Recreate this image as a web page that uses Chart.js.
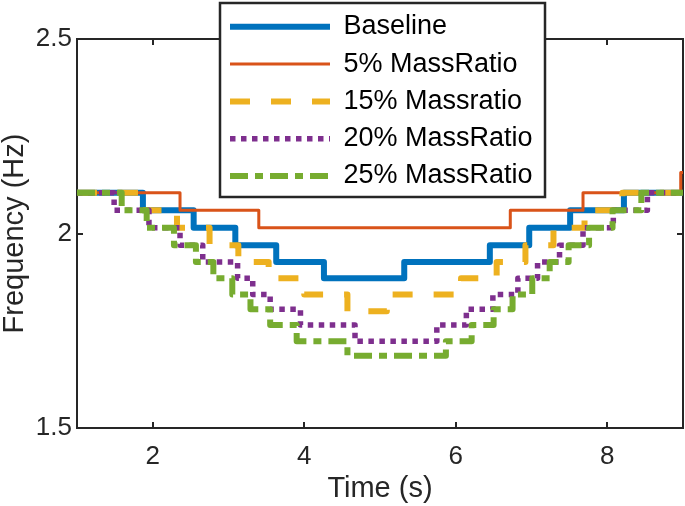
<!DOCTYPE html>
<html><head><meta charset="utf-8">
<script src="https://cdn.jsdelivr.net/npm/chart.js@4.4.1/dist/chart.umd.min.js"></script>
<style>html,body{margin:0;padding:0;background:#fff}#wrap{width:685px;height:506px}</style>
</head><body><div id="wrap"><canvas id="c" width="685" height="506"></canvas></div>
<script>
// ---- data ----
const seriesLabels = ['Baseline', '5% MassRatio', '15% Massratio', '20% MassRatio', '25% MassRatio'];

const baselineTime = [1, 1.87, 2.54, 3.09, 3.63, 4.26, 5.32, 6.45, 6.97, 7.51, 8.22, 9];
const baselineFreq = [2.105, 2.06, 2.015, 1.97, 1.927, 1.885, 1.927, 1.97, 2.015, 2.06, 2.105, 2.105];

const mr5Time = [1, 2.36, 3.40, 6.72, 7.68, 8.97, 9];
const mr5Freq = [2.105, 2.06, 2.015, 2.06, 2.105, 2.157, 2.157];

const mr15Time = [1, 1.87, 2.32, 2.75, 3.13, 3.53, 4.0, 4.57, 5.09, 6.07, 6.54, 6.92, 7.29, 7.7, 8.2, 9];
const mr15Freq = [2.105, 2.06, 2.015, 1.97, 1.927, 1.885, 1.843, 1.80, 1.843, 1.885, 1.927, 1.97, 2.015, 2.06, 2.105, 2.105];

const mr20Time = [1, 1.49, 1.95, 2.36, 2.66, 3.12, 3.32, 3.55, 3.95, 4.67, 5.75, 6.14, 6.49, 6.82, 7.08, 7.37, 7.68, 8.08, 8.53, 9];
const mr20Freq = [2.105, 2.06, 2.015, 1.97, 1.927, 1.885, 1.843, 1.805, 1.765, 1.723, 1.765, 1.805, 1.843, 1.885, 1.927, 1.97, 2.015, 2.06, 2.105, 2.105];

const mr25Time = [1, 1.59, 1.92, 2.28, 2.57, 2.80, 3.05, 3.29, 3.55, 3.90, 4.57, 5.87, 6.21, 6.50, 6.75, 7.01, 7.24, 7.49, 7.76, 8.07, 8.45, 9];
const mr25Freq = [2.105, 2.06, 2.015, 1.97, 1.927, 1.885, 1.843, 1.805, 1.765, 1.723, 1.686, 1.723, 1.765, 1.805, 1.843, 1.885, 1.927, 1.97, 2.015, 2.06, 2.105, 2.105];

const xTickValues = [2, 4, 6, 8];
const xTickLabels = ['2', '4', '6', '8'];
const yTickValues = [1.5, 2, 2.5];
const yTickLabels = ['1.5', '2', '2.5'];

// ---- build ----
const AX = '#262626';
Chart.defaults.font.family = "'Liberation Sans', Arial, Helvetica, sans-serif";
Chart.defaults.color = AX;

const pts = (t, f) => t.map((x, i) => ({x: x, y: f[i]}));
const styles = [
  {color: '#0072BD', width: 6, dash: [], order: 5},
  {color: '#D95319', width: 3, dash: [], order: 4},
  {color: '#EDB120', width: 6, dash: [20, 21], order: 3},
  {color: '#7E2F8E', width: 5.5, dash: [5.5, 5.5], order: 2},
  {color: '#77AC30', width: 6, dash: [18, 7, 8, 7], order: 1}
];
const seriesData = [
  pts(baselineTime, baselineFreq), pts(mr5Time, mr5Freq), pts(mr15Time, mr15Freq),
  pts(mr20Time, mr20Freq), pts(mr25Time, mr25Freq)
];
const datasets = seriesLabels.map((lab, i) => ({
  label: lab,
  data: seriesData[i],
  borderColor: styles[i].color,
  backgroundColor: styles[i].color,
  borderWidth: styles[i].width,
  borderDash: styles[i].dash,
  borderJoinStyle: 'round',
  borderCapStyle: 'butt',
  stepped: 'before',
  pointRadius: 0,
  fill: false,
  order: styles[i].order
}));

const LEG = {x0: 220, y0: 3, x1: 545, y1: 197};

const framePlugin = {
  id: 'framePlugin',
  afterLayout(chart) {
    const lg = chart.legend;
    if (!lg) return;
    lg.left = 219.7; lg.top = 3; lg.right = 546; lg.bottom = 320;
    lg.width = lg.right - lg.left; lg.height = lg.bottom - lg.top;
  },
  beforeDraw(chart) {
    const {ctx, chartArea: a, scales} = chart;
    ctx.save();
    ctx.strokeStyle = AX;
    ctx.lineWidth = 2;
    ctx.strokeRect(a.left, a.top, a.right - a.left, a.bottom - a.top);
    const tl = 6;
    ctx.beginPath();
    xTickValues.forEach(v => {
      const px = Math.round(scales.x.getPixelForValue(v));
      ctx.moveTo(px, a.bottom); ctx.lineTo(px, a.bottom - tl);
      ctx.moveTo(px, a.top); ctx.lineTo(px, a.top + tl);
    });
    yTickValues.forEach(v => {
      const py = Math.round(scales.y.getPixelForValue(v));
      ctx.moveTo(a.left, py); ctx.lineTo(a.left + tl, py);
      ctx.moveTo(a.right, py); ctx.lineTo(a.right - tl, py);
    });
    ctx.stroke();
    // legend box
    ctx.fillStyle = '#fff';
    ctx.fillRect(LEG.x0, LEG.y0, LEG.x1 - LEG.x0, LEG.y1 - LEG.y0);
    ctx.lineWidth = 2.5;
    ctx.strokeStyle = AX;
    ctx.strokeRect(LEG.x0, LEG.y0, LEG.x1 - LEG.x0, LEG.y1 - LEG.y0);
    ctx.restore();
  }
};

new Chart(document.getElementById('c'), {
  type: 'line',
  data: {datasets: datasets},
  options: {
    responsive: false,
    animation: false,
    events: [],
    layout: {padding: {top: 39, right: 2, left: 0, bottom: 0}},
    plugins: {
      tooltip: {enabled: false},
      legend: {
        display: true,
        position: 'chartArea',
        align: 'start',
        labels: {
          usePointStyle: true,
          pointStyle: 'line',
          pointStyleWidth: 100,
          padding: 10.3,
          font: {size: 27},
          color: '#000',
          generateLabels(chart) {
            return chart.data.datasets.map((ds, i) => ({
              text: ds.label,
              fillStyle: 'rgba(0,0,0,0)',
              strokeStyle: ds.borderColor,
              lineWidth: ds.borderWidth,
              lineDash: ds.borderDash,
              lineDashOffset: 0,
              lineCap: 'butt',
              lineJoin: 'miter',
              pointStyle: 'line',
              fontColor: '#000',
              hidden: false,
              datasetIndex: i
            }));
          }
        }
      }
    },
    scales: {
      x: {
        type: 'linear', min: 1, max: 9,
        grid: {display: false, drawTicks: false},
        border: {display: false},
        afterBuildTicks(s) { s.ticks = xTickValues.map(v => ({value: v})); },
        afterFit(s) { s.height = 78; },
        ticks: {
          padding: 13, font: {size: 26}, color: AX, maxRotation: 0,
          callback(v) { const i = xTickValues.indexOf(v); return i >= 0 ? xTickLabels[i] : ''; }
        },
        title: {display: true, text: 'Time (s)', font: {size: 29, lineHeight: 1}, color: AX, padding: {top: 0, bottom: 3}}
      },
      y: {
        type: 'linear', min: 1.5, max: 2.5,
        grid: {display: false, drawTicks: false},
        border: {display: false},
        afterBuildTicks(s) { s.ticks = yTickValues.map(v => ({value: v})); },
        afterFit(s) { s.width = 77; },
        ticks: {
          padding: 5, font: {size: 26}, color: AX,
          callback(v) { const i = yTickValues.indexOf(v); return i >= 0 ? yTickLabels[i] : ''; }
        },
        title: {display: true, text: 'Frequency (Hz)', font: {size: 29, lineHeight: 1}, color: AX, padding: {top: 0, bottom: 0}}
      }
    }
  },
  plugins: [framePlugin]
});
</script>
</body></html>
